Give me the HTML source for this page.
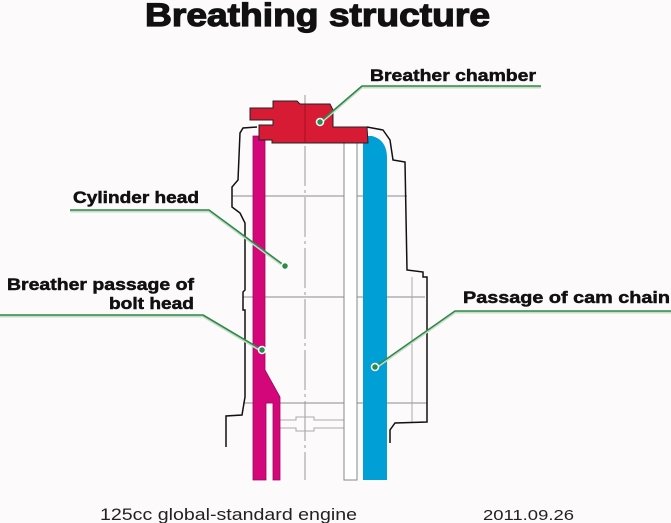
<!DOCTYPE html>
<html><head><meta charset="utf-8"><style>
html,body{margin:0;padding:0;background:#fdfafc;}
svg{display:block;}
</style></head><body>
<svg width="671" height="523" viewBox="0 0 671 523" xmlns="http://www.w3.org/2000/svg" font-family="Liberation Sans, sans-serif">
<rect width="671" height="523" fill="#fdfafc"/>
<text x="145" y="26" font-size="32" font-weight="bold" fill="#111" stroke="#111" stroke-width="1.2" textLength="345" lengthAdjust="spacingAndGlyphs">Breathing structure</text>

<g stroke="#8a8a8a" stroke-width="1" fill="none">
<line x1="232" y1="196" x2="407" y2="196"/>
<line x1="243" y1="297" x2="425" y2="297"/>
<line x1="243" y1="403" x2="427" y2="403"/>
<line x1="305" y1="95" x2="305" y2="480" stroke-dasharray="40,4,3,4" stroke="#999"/>
<line x1="412" y1="277" x2="412" y2="422" stroke="#aaa"/>
<path d="M280 420 H296 V417 H314 V420 H344 M280 428 H296 V431 H314 V428 H344" stroke="#aaa"/>
</g>

<path d="M257 127 L243 128 L240 133 L238 180 L232 187 L232 207 L240 213 L245 223 L245 290 L243 292 L243 310 L245 310 L245 397 L242 415 L226 416 L226 447" fill="none" stroke="#111" stroke-width="1.5"/>
<path d="M367 127 L383 130 L390 140 L393 160 L405 162 L407 270 L423 272 L423 277 L427 277 L427 422 L395 423 L390 430 L390 443" fill="none" stroke="#111" stroke-width="1.5"/>

<path d="M253 136 H265 V370 L280 397 V480 H273 V403 H266 V480 H253 Z" fill="#d3077a" stroke="#a0055c" stroke-width="0.8"/>
<rect x="344" y="137" width="13" height="343" fill="#fff" stroke="#888" stroke-width="1"/>
<path d="M363 136 H372 Q387 140 387 158 V480 H363 Z" fill="#00a0d6"/>
<path d="M250 108 L273 108 L273 101 L297 101 L300 104 L330 104 L333 110 L333 127 L367 127 L368 143 L272 143 L272 140 L259 140 L259 125 L273 125 L273 120 L250 120 Z" fill="#d81b35" stroke="#222" stroke-width="1"/>
<line x1="305" y1="104" x2="305" y2="143" stroke="#a01020" stroke-width="1"/>

<g fill="none" stroke-linejoin="round">
<path d="M541 86 H362 L320 122" stroke="#c8dcc8" stroke-width="2" transform="translate(0,1.5)"/>
<path d="M541 86 H362 L320 122" stroke="#2e8a4a" stroke-width="1.6"/>
<path d="M70 210 H209 L285 266" stroke="#c8dcc8" stroke-width="2" transform="translate(0,1.5)"/>
<path d="M70 210 H209 L285 266" stroke="#2e8a4a" stroke-width="1.6"/>
<path d="M0 315 H203 L262 350" stroke="#c8dcc8" stroke-width="2" transform="translate(0,1.5)"/>
<path d="M0 315 H203 L262 350" stroke="#2e8a4a" stroke-width="1.6"/>
<path d="M671 311 H455 L375 367" stroke="#c8dcc8" stroke-width="2" transform="translate(0,1.5)"/>
<path d="M671 311 H455 L375 367" stroke="#2e8a4a" stroke-width="1.6"/>
</g>
<g fill="#2e8a4a" stroke="#fff" stroke-width="1.5">
<circle cx="320" cy="122" r="3.5"/>
<circle cx="285" cy="266" r="3.5"/>
<circle cx="262" cy="350" r="3.5"/>
<circle cx="375" cy="367" r="3.5"/>
</g>

<g font-size="17" font-weight="bold" fill="#111" stroke="#111" stroke-width="0.5">
<text x="370" y="81" textLength="166" lengthAdjust="spacingAndGlyphs">Breather chamber</text>
<text x="73" y="203" textLength="126" lengthAdjust="spacingAndGlyphs">Cylinder head</text>
<text x="7" y="290" textLength="187" lengthAdjust="spacingAndGlyphs">Breather passage of</text>
<text x="109" y="309" textLength="85" lengthAdjust="spacingAndGlyphs">bolt head</text>
<text x="463" y="303" textLength="207" lengthAdjust="spacingAndGlyphs">Passage of cam chain</text>
</g>
<text x="100" y="520" font-size="17" fill="#222" textLength="257" lengthAdjust="spacingAndGlyphs">125cc global-standard engine</text>
<text x="483" y="520" font-size="15" fill="#222" textLength="91" lengthAdjust="spacingAndGlyphs">2011.09.26</text>
</svg>
</body></html>
